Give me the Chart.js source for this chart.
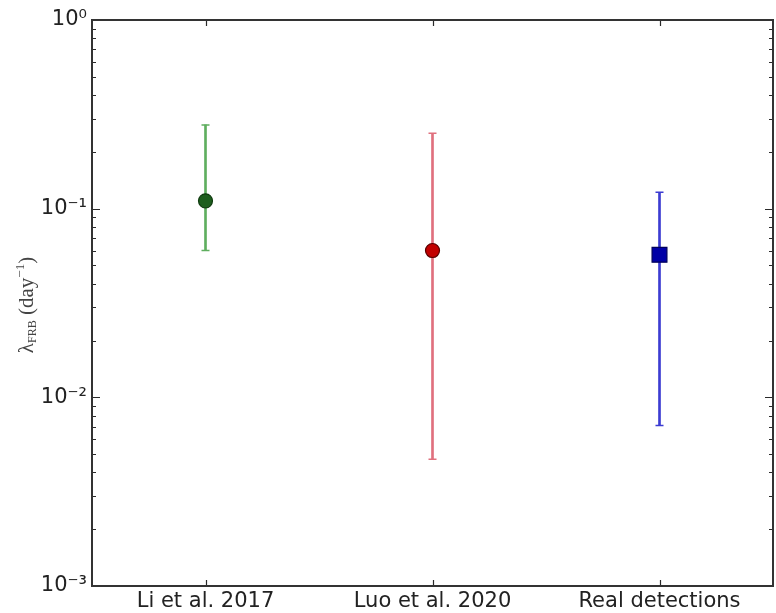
<!DOCTYPE html>
<html><head><meta charset="utf-8">
<script src="https://cdn.jsdelivr.net/npm/chart.js@4"></script>
<style>html,body{margin:0;padding:0;background:#fff}</style>
</head><body>
<canvas id="c" width="776" height="613"></canvas>
<script>
const categories = ['Li et al. 2017', 'Luo et al. 2020', 'Real detections'];
const centralValues = [0.110, 0.060, 0.057];
const lowerValues = [0.060, 0.0047, 0.0071];
const upperValues = [0.278, 0.251, 0.122];
const yTickValues = [0.001, 0.01, 0.1, 1];
const yTickLabels = ['10⁻³', '10⁻²', '10⁻¹', '10⁰'];

const whiskerData = categories.map((c, i) => [lowerValues[i], upperValues[i]]);
const capData = [];
categories.forEach((c, i) => { capData.push({x: c, y: lowerValues[i]}); capData.push({x: c, y: upperValues[i]}); });
const pointData = categories.map((c, i) => ({x: c, y: centralValues[i]}));

const frameTicks = {
  id: 'frameTicks',
  afterDraw(chart) {
    const {ctx, chartArea: a, scales: {x, y}} = chart;
    ctx.save();
    ctx.strokeStyle = '#2a2a2a';
    ctx.lineWidth = 1.2;
    for (let e = -3; e <= 0; e++) {
      for (let m = 1; m <= 9; m++) {
        const v = m * Math.pow(10, e);
        if (v > 1.0000001) break;
        const py = Math.round(y.getPixelForValue(v)) + 0.5;
        const len = m === 1 ? 8 : 4;
        ctx.beginPath();
        ctx.moveTo(a.left, py); ctx.lineTo(a.left + len, py);
        ctx.moveTo(a.right, py); ctx.lineTo(a.right - len, py);
        ctx.stroke();
      }
    }
    categories.forEach((c, i) => {
      const px = Math.round(x.getPixelForValue(i)) + 0.5;
      ctx.beginPath();
      ctx.moveTo(px, a.bottom); ctx.lineTo(px, a.bottom - 6);
      ctx.moveTo(px, a.top); ctx.lineTo(px, a.top + 6);
      ctx.stroke();
    });
    ctx.strokeStyle = '#333';
    ctx.lineWidth = 2;
    ctx.strokeRect(a.left, a.top, a.right - a.left, a.bottom - a.top);
    ctx.fillStyle = '#444';
    ctx.translate(33, 305);
    ctx.rotate(-Math.PI / 2);
    ctx.textBaseline = 'alphabetic';
    const parts = [
      {t: 'λ', f: '21px "Liberation Serif"', dy: 0},
      {t: 'FRB', f: '12px "Liberation Serif"', dy: 3},
      {t: ' (day', f: '21px "Liberation Serif"', dy: 0},
      {t: '−1', f: '13px "Liberation Serif"', dy: -9},
      {t: ')', f: '21px "Liberation Serif"', dy: 0}
    ];
    let total = 0;
    parts.forEach(p => { ctx.font = p.f; p.w = ctx.measureText(p.t).width; total += p.w; });
    let cx = -total / 2;
    parts.forEach(p => { ctx.font = p.f; ctx.fillText(p.t, cx, p.dy); cx += p.w; });
    ctx.restore();
  }
};

new Chart(document.getElementById('c'), {
  type: 'bar',
  data: {
    labels: categories,
    datasets: [
      {
        type: 'bar', data: whiskerData, order: 3,
        backgroundColor: ['#5fae5f', '#e0707e', '#3c3cd2'],
        borderWidth: 0, barThickness: 2, grouped: false
      },
      {
        type: 'line', data: capData, order: 2, showLine: false,
        pointStyle: 'line', pointRadius: 4, pointBorderWidth: 1.5,
        pointBorderColor: ['#5fae5f', '#5fae5f', '#e0707e', '#e0707e', '#3c3cd2', '#3c3cd2'],
        pointHoverRadius: 4
      },
      {
        type: 'line', data: pointData, order: 1, showLine: false,
        pointStyle: ['circle', 'circle', 'rect'],
        pointRadius: [7, 7, 10.5], pointHoverRadius: [7, 7, 10.5],
        pointBackgroundColor: ['#1d5e1d', '#c20000', '#0000a6'],
        pointBorderColor: ['#0f3b0f', '#5a0000', '#00005a'],
        pointBorderWidth: 1.2
      }
    ]
  },
  options: {
    responsive: false,
    animation: false,
    events: [],
    layout: {autoPadding: false, padding: {top: 20, right: 3, left: 0, bottom: 0}},
    plugins: {legend: {display: false}, tooltip: {enabled: false}},
    scales: {
      x: {
        type: 'category', offset: true,
        grid: {display: false, drawTicks: false},
        border: {display: false},
        ticks: {padding: 3, color: '#222', font: {family: '"DejaVu Sans"', size: 21}, maxRotation: 0},
        afterFit(s) { s.height = 27; s.paddingLeft = 0; s.paddingRight = 0; }
      },
      y: {
        type: 'logarithmic', min: 0.001, max: 1,
        grid: {display: false, drawTicks: false},
        border: {display: false},
        afterBuildTicks(s) { s.ticks = yTickValues.map(v => ({value: v})); },
        ticks: {
          padding: 5, color: '#222', font: {family: '"DejaVu Sans"', size: 21}, autoSkip: false,
          callback(v) { const i = yTickValues.findIndex(t => Math.abs(t - v) / t < 1e-6); return i >= 0 ? yTickLabels[i] : ''; }
        },
        afterFit(s) { s.width = 92; s.paddingTop = 0; s.paddingBottom = 0; }
      }
    }
  },
  plugins: [frameTicks]
});
</script>
</body></html>
